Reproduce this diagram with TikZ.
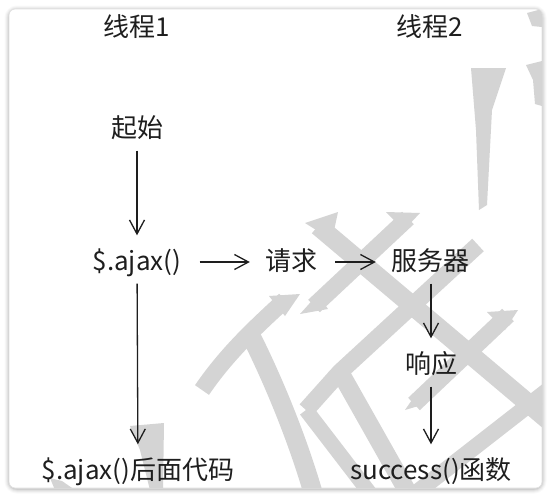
\documentclass[tikz,border=0pt]{standalone}
\usepackage{fontspec}
\setmainfont{Noto Sans CJK SC}
\usetikzlibrary{arrows.meta}
\definecolor{wm}{HTML}{D4D4D4}
\definecolor{ink}{HTML}{1E1E1E}
\begin{document}
\begin{tikzpicture}[x=1pt,y=-1pt,
  lbl/.style={inner xsep=0pt, inner ysep=0pt, text height=20pt, text depth=3pt,
    font=\fontsize{26pt}{30pt}\selectfont, text=ink},
  arr/.style={draw=ink, line width=1.3pt,
    -{Straight Barb[length=14pt,width=15pt,line width=1.3pt]}},
  vert/.style={shorten <=10pt, shorten >=15pt},
  horz/.style={shorten <=18pt, shorten >=15pt},
  wmk/.style={draw=wm, line cap=butt},
]
\useasboundingbox (0,0) rectangle (550,498);
\fill[white] (0,0) rectangle (550,498);
% card shadow
\foreach \w/\op in {9/0.025,7/0.03,5/0.04,3/0.05,1.5/0.06}
  \draw[black, opacity=\op, line width=\w pt, rounded corners=8pt] (9,10) rectangle (542,489);
\fill[white, draw=black!12, line width=0.8pt, rounded corners=6pt] (9,9) rectangle (542,488);

% watermark
\begin{scope}
\clip[rounded corners=6pt] (9,9) rectangle (542,488);
\fill[wm] (471,68) -- (506,68) -- (492,110) -- (487,205) -- (479,210) -- (476,130) -- cycle;
\fill[wm] (527,13) -- (542,9) -- (542,27) -- (532,26) -- cycle;
\fill[wm] (526,65) -- (542,61) -- (542,106) -- (535,104) -- (533,80) -- cycle;
% band A
\draw[wmk, line width=19pt] (318,226) -- (548,420);
\fill[wm] (305,223) -- (338,212) -- (332,240) -- cycle;
% band S2
\draw[wmk, line width=17pt] (408,218) -- (314,306);
\fill[wm] (386,212) -- (420,213) -- (404,230) -- cycle;
\fill[wm] (300,314) -- (328,309) -- (318,294) -- cycle;
% band G
\draw[wmk, line width=17pt] (478,245) -- (340,372) -- (306,410);
% band C
\draw[wmk, line width=17pt] (508,315) -- (414,404);
\fill[wm] (487,312) -- (518,310) -- (505,330) -- cycle;
\fill[wm] (405,410) -- (425,404) -- (416,394) -- cycle;
% band D
\draw[wmk, line width=16pt] (548,390) -- (412,496);
% band E
\draw[wmk, line width=18pt] (340,372) -- (410,496);
\fill[wm] (328,372) -- (350,367) -- (348,388) -- cycle;
\draw[wmk, line width=15pt] (306,410) -- (372,496);
% curves
\draw[wmk, line width=17pt] (285,300) .. controls (258,325) and (228,352) .. (202,390);
\fill[wm] (269,296) -- (300,294) -- (285,316) -- cycle;
\draw[wmk, line width=19pt] (252,338) .. controls (268,370) and (295,430) .. (314,496);
\fill[wm] (130,426) -- (164,423) -- (163,490) -- (150,490) -- (140,450) -- cycle;
\fill[wm] (50,478) -- (62,481) -- (75,490) -- (55,490) -- cycle;
\end{scope}

% labels
\node[lbl] (t1) at (137,28) {线程1};
\node[lbl] (t2) at (430,28) {线程2};
\node[lbl] (start) at (137,129) {起始};
\node[lbl] (ajax) at (137,262) {\$.ajax()};
\node[lbl] (req) at (291,262) {请求};
\node[lbl] (srv) at (430,262) {服务器};
\node[lbl] (resp) at (431,365) {响应};
\node[lbl] (after) at (138,471) {\$.ajax()后面代码};
\node[lbl] (succ) at (431,471) {success()函数};

% arrows
\draw[arr, vert] (start) -- (ajax);
\draw[arr, vert] (ajax) -- (after);
\draw[arr, horz] (ajax) -- (req);
\draw[arr, horz] (req) -- (srv);
\draw[arr, vert] (srv.south -| resp) -- (resp);
\draw[arr, vert] (resp) -- (succ.north -| resp);
\end{tikzpicture}
\end{document}
